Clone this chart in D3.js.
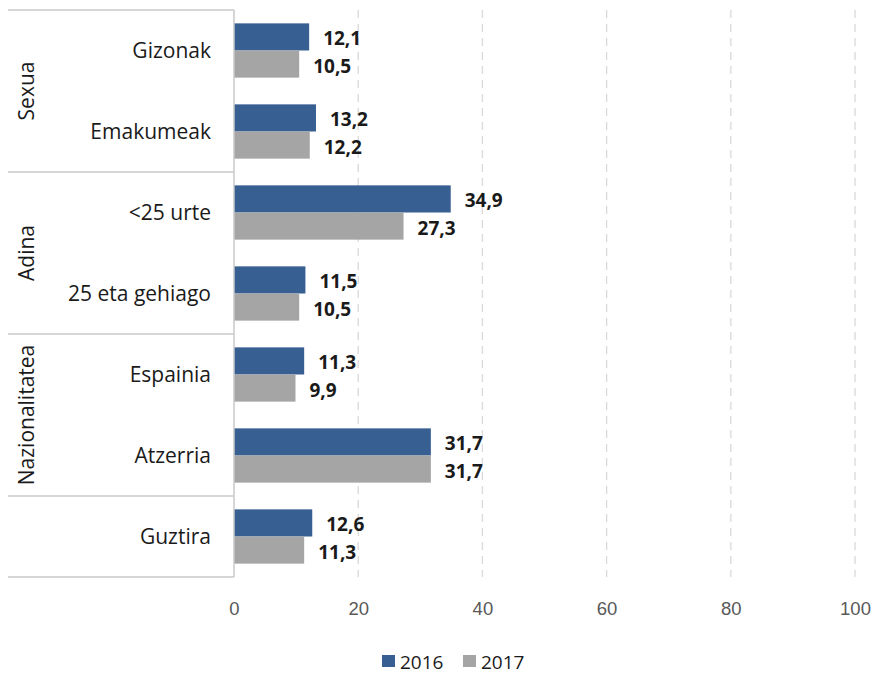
<!DOCTYPE html>
<html>
<head>
<meta charset="utf-8">
<script src="https://cdn.jsdelivr.net/npm/d3@7"></script>
<style>
  body { margin: 0; background: #fff; }
  svg { font-family: "Open Sans", "Noto Sans", sans-serif; }
</style>
</head>
<body>
<div id="chart"></div>
<script>
// datuak
var categories = ["Gizonak", "Emakumeak", "<25 urte", "25 eta gehiago", "Espainia", "Atzerria", "Guztira"];
var groups = [
    { name: "Sexua", from: 0, to: 1 },
    { name: "Adina", from: 2, to: 3 },
    { name: "Nazionalitatea", from: 4, to: 5 },
    { name: "", from: 6, to: 6 }
];
var series = ["2016", "2017"];
var values2016 = [12.1, 13.2, 34.9, 11.5, 11.3, 31.7, 12.6];
var values2017 = [10.5, 12.2, 27.3, 10.5, 9.9, 31.7, 11.3];
var xTicks = [0, 20, 40, 60, 80, 100];
var colors = ["#375f92", "#a5a5a5"];

(function () {
    var WIDTH = 876, HEIGHT = 675;
    var left = 234, right = 855, plotTop = 10, plotBottom = 577;

    var svg = d3.select("#chart").append("svg")
        .attr("width", WIDTH)
        .attr("height", HEIGHT);

    var x = d3.scaleLinear().domain([0, 100]).range([left, right]);
    var y = d3.scaleBand().domain(categories).range([plotTop, plotBottom]).paddingInner(0.33).paddingOuter(0.165);
    var y1 = d3.scaleBand().domain(series).range([0, y.bandwidth()]);

    // grid lerroak
    svg.append("g").selectAll("line")
        .data(xTicks.slice(1)).enter()
        .append("line")
        .attr("x1", function (d) { return x(d); })
        .attr("x2", function (d) { return x(d); })
        .attr("y1", plotTop)
        .attr("y2", plotBottom)
        .attr("stroke", "#d9d9d9")
        .attr("stroke-width", 1.3)
        .attr("stroke-dasharray", "8,6");

    // x ardatzeko etiketak
    var xAxis = d3.axisBottom(x).tickValues(xTicks).tickSize(0).tickPadding(0);
    var xg = svg.append("g").attr("transform", "translate(0," + (plotBottom + 25) + ")").call(xAxis);
    xg.select(".domain").remove();
    xg.selectAll("text")
        .attr("fill", "#595959")
        .style("font-size", "18.5px");

    // barrak
    var rows = categories.map(function (c, i) {
        return { cat: c, vals: [values2016[i], values2017[i]] };
    });

    var rowG = svg.append("g").selectAll("g")
        .data(rows).enter()
        .append("g")
        .attr("transform", function (d) { return "translate(0," + y(d.cat) + ")"; });

    function pairs(d) {
        return d.vals.map(function (v, k) { return { s: series[k], v: v, k: k }; });
    }

    rowG.selectAll("rect")
        .data(pairs)
        .enter().append("rect")
        .attr("x", x(0))
        .attr("y", function (d) { return y1(d.s); })
        .attr("width", function (d) { return x(d.v) - x(0); })
        .attr("height", y1.bandwidth())
        .attr("fill", function (d) { return colors[d.k]; });

    // balioen etiketak
    rowG.selectAll("text")
        .data(pairs)
        .enter().append("text")
        .attr("x", function (d) { return x(d.v) + 14; })
        .attr("y", function (d) { return y1(d.s) + y1.bandwidth() / 2 + 8.5; })
        .attr("fill", "#1a1a1a")
        .style("font-size", "19px")
        .style("font-weight", "bold")
        .text(function (d) { return d3.format(".1f")(d.v).replace(".", ","); });

    // kategoriak
    svg.append("g").selectAll("text")
        .data(categories).enter()
        .append("text")
        .attr("x", 211)
        .attr("y", function (d) { return y(d) + y.bandwidth() / 2; })
        .attr("dy", "0.35em")
        .attr("text-anchor", "end")
        .attr("fill", "#1a1a1a")
        .style("font-size", "21px")
        .text(function (d) { return d; });

    // taldeen lerroak eta izenak
    var step = y.step();
    var bounds = [plotTop].concat(groups.map(function (g) { return plotTop + (g.to + 1) * step; }));
    svg.append("g").selectAll("line")
        .data(bounds).enter()
        .append("line")
        .attr("x1", 8)
        .attr("x2", left)
        .attr("y1", function (d) { return d; })
        .attr("y2", function (d) { return d; })
        .attr("stroke", "#c8c8c8")
        .attr("stroke-width", 1.5);

    svg.append("line")
        .attr("x1", left).attr("x2", left)
        .attr("y1", plotTop).attr("y2", plotBottom)
        .attr("stroke", "#c8c8c8")
        .attr("stroke-width", 1.5);

    svg.append("g").selectAll("text")
        .data(groups.filter(function (g) { return g.name; })).enter()
        .append("text")
        .attr("transform", function (g) {
            var cy = plotTop + (g.from + (g.to + 1)) / 2 * step;
            return "translate(27," + cy + ")rotate(-90)";
        })
        .attr("text-anchor", "middle")
        .attr("dy", "0.35em")
        .attr("fill", "#1a1a1a")
        .style("font-size", "21px")
        .text(function (g) { return g.name; });

    // legenda
    var legend = svg.append("g").attr("transform", "translate(382,655)");
    var items = legend.selectAll("g")
        .data(series).enter()
        .append("g")
        .attr("transform", function (d, i) { return "translate(" + (i * 81) + ",0)"; });
    items.append("rect")
        .attr("width", 13).attr("height", 12)
        .attr("fill", function (d, i) { return colors[i]; });
    items.append("text")
        .attr("x", 18).attr("y", 7)
        .attr("dy", "0.35em")
        .attr("fill", "#1a1a1a")
        .style("font-size", "19px")
        .text(function (d) { return d; });
})();
</script>
</body>
</html>
